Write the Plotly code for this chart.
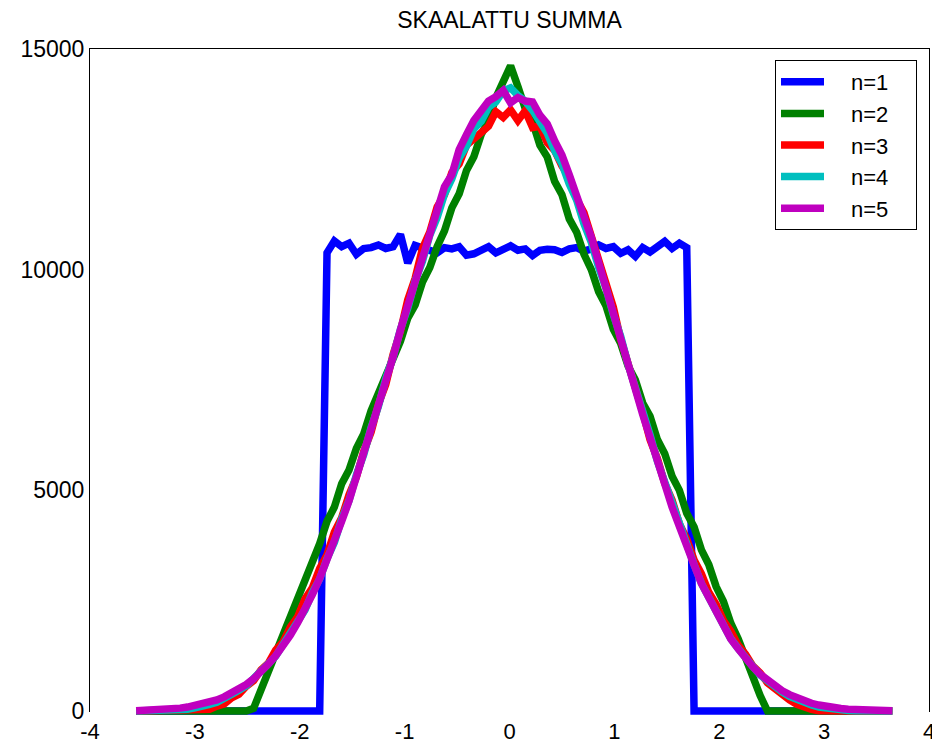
import plotly.graph_objects as go

# Bin centres shared by all histograms
x_centers = [
    -3.56, -3.49, -3.42, -3.35, -3.28, -3.21, -3.14, -3.07, -3.00, -2.93,
    -2.86, -2.79, -2.72, -2.65, -2.58, -2.51, -2.44, -2.37, -2.30, -2.23,
    -2.16, -2.09, -2.02, -1.95, -1.88, -1.81, -1.74, -1.67, -1.60, -1.53,
    -1.46, -1.39, -1.32, -1.25, -1.18, -1.11, -1.04, -0.97, -0.90, -0.83,
    -0.76, -0.69, -0.62, -0.55, -0.48, -0.41, -0.34, -0.27, -0.20, -0.13,
    -0.06, 0.01, 0.08, 0.15, 0.22, 0.29, 0.36, 0.43, 0.50, 0.57,
    0.64, 0.71, 0.78, 0.85, 0.92, 0.99, 1.06, 1.13, 1.20, 1.27,
    1.34, 1.41, 1.48, 1.55, 1.62, 1.69, 1.76, 1.83, 1.90, 1.97,
    2.04, 2.11, 2.18, 2.25, 2.32, 2.39, 2.46, 2.53, 2.60, 2.67,
    2.74, 2.81, 2.88, 2.95, 3.02, 3.09, 3.16, 3.23, 3.30, 3.37,
    3.44, 3.51, 3.58, 3.65,
]

n1 = [
    0, 0, 0, 0, 0, 0, 0, 0, 0, 0,
    0, 0, 0, 0, 0, 0, 0, 0, 0, 0,
    0, 0, 0, 0, 0, 0, 10380, 10650, 10520, 10600,
    10350, 10480, 10500, 10560, 10480, 10520, 10800, 10150, 10550, 10500,
    10420, 10380, 10500, 10470, 10520, 10330, 10360, 10450, 10520, 10380,
    10470, 10540, 10440, 10470, 10320, 10440, 10460, 10450, 10390, 10470,
    10500, 10420, 10470, 10560, 10480, 10520, 10370, 10450, 10300, 10500,
    10400, 10520, 10640, 10480, 10600, 10500, 0, 0, 0, 0,
    0, 0, 0, 0, 0, 0, 0, 0, 0, 0,
    0, 0, 0, 0, 0, 0, 0, 0, 0, 0,
    0, 0, 0, 0,
]

n2 = [
    0, 0, 0, 0, 0, 0, 0, 0, 0, 0,
    0, 0, 0, 0, 0, 0, 60, 470, 920, 1290,
    1760, 2120, 2620, 2950, 3450, 3790, 4300, 4620, 5150, 5460,
    5950, 6280, 6800, 7200, 7540, 8050, 8380, 8900, 9200, 9720,
    10050, 10520, 10880, 11400, 11720, 12250, 12560, 13060, 13380, 13900,
    14300, 14620, 14150, 13650, 13350, 12820, 12550, 12000, 11700, 11150,
    10850, 10350, 10000, 9500, 9180, 8650, 8330, 7820, 7500, 6980,
    6680, 6150, 5830, 5320, 5000, 4480, 4170, 3650, 3320, 2820,
    2480, 1990, 1640, 1170, 790, 350, 0, 0, 0, 0,
    0, 0, 0, 0, 0, 0, 0, 0, 0, 0,
    0, 0, 0, 0,
]

n3 = [
    0, 0, 0, 0, 0, 0, 0, 0, 0, 10,
    40, 110, 160, 300, 380, 560, 690, 930, 1080, 1380,
    1560, 1900, 2130, 2540, 2790, 3230, 3540, 4050, 4380, 4900,
    5300, 5880, 6320, 6950, 7400, 8080, 8600, 9320, 9800, 10480,
    10850, 11420, 11700, 12200, 12400, 12820, 12950, 13100, 13250, 13580,
    13450, 13620, 13380, 13600, 13220, 13250, 12880, 12700, 12350, 12100,
    11600, 11290, 10720, 10300, 9650, 9150, 8420, 7900, 7250, 6780,
    6150, 5720, 5160, 4780, 4240, 3900, 3420, 3110, 2690, 2420,
    2050, 1810, 1490, 1290, 1020, 860, 640, 510, 350, 250,
    150, 85, 35, 8, 0, 0, 0, 0, 0, 0,
    0, 0, 0, 0,
]

n4 = [
    0, 0, 0, 2, 6, 10, 25, 40, 70, 95,
    150, 200, 280, 350, 470, 570, 730, 860, 1070, 1240,
    1500, 1710, 2030, 2290, 2680, 2990, 3450, 3820, 4350, 4770,
    5350, 5810, 6420, 6900, 7530, 8020, 8650, 9130, 9740, 10190,
    10780, 11180, 11710, 12060, 12530, 12800, 13190, 13360, 13680, 13800,
    14050, 14120, 13950, 13820, 13610, 13380, 13090, 12700, 12400, 11940,
    11580, 11040, 10620, 10050, 9580, 8980, 8490, 7860, 7370, 6750,
    6260, 5660, 5190, 4630, 4200, 3700, 3320, 2890, 2570, 2200,
    1940, 1640, 1420, 1180, 1010, 815, 680, 540, 435, 330,
    255, 185, 135, 90, 60, 35, 20, 10, 4, 2,
    0, 0, 0, 0,
]

n5 = [
    5, 10, 15, 20, 30, 45, 65, 90, 120, 150,
    200, 250, 320, 400, 490, 600, 730, 880, 1060, 1250,
    1470, 1720, 2000, 2300, 2640, 3000, 3410, 3820, 4300, 4760,
    5290, 5780, 6360, 6880, 7490, 8020, 8640, 9180, 9790, 10300,
    10880, 11350, 11880, 12150, 12720, 13060, 13380, 13600, 13820, 13920,
    14060, 13780, 13900, 13820, 13800, 13500, 13300, 12920, 12600, 12150,
    11730, 11200, 10730, 10140, 9620, 9010, 8470, 7850, 7320, 6720,
    6200, 5630, 5150, 4620, 4180, 3700, 3310, 2890, 2560, 2200,
    1930, 1630, 1410, 1180, 1000, 830, 690, 560, 460, 370,
    290, 230, 175, 135, 100, 75, 55, 40, 28, 20,
    14, 9, 6, 4,
]

series_names = ["n=1", "n=2", "n=3", "n=4", "n=5"]
series_values = [n1, n2, n3, n4, n5]
series_colors = ["#0000FF", "#008000", "#FF0000", "#00BFBF", "#BF00BF"]

x_ticks = [-4, -3, -2, -1, 0, 1, 2, 3, 4]
y_ticks = [0, 5000, 10000, 15000]

FONT = "Arial, Liberation Sans, Helvetica, sans-serif"
W, H = 932, 745
M_L, M_R, M_T, M_B = 90, 3, 49, 28
plot_w = W - M_L - M_R
plot_h = H - M_T - M_B
pad = 6  # extra pixels below zero so thick lines are not clipped
y_lo = 0
y_hi = 15000

EM = "\u2003"
fig = go.Figure()
# empty trace so that the visible axis frame (x, y) exists
fig.add_trace(go.Scatter(x=[None], y=[None], mode="lines", showlegend=False,
                         hoverinfo="skip", xaxis="x", yaxis="y"))
for name, vals, col in zip(series_names, series_values, series_colors):
    fig.add_trace(go.Scatter(
        x=x_centers, y=vals, mode="lines", name=EM + name + EM,
        line=dict(color=col, width=7.5),
        xaxis="x", yaxis="y2",
    ))

fig.update_layout(
    width=W, height=H,
    margin=dict(l=M_L, r=M_R, t=M_T, b=M_B, pad=0, autoexpand=False),
    paper_bgcolor="white", plot_bgcolor="white",
    font=dict(family=FONT, size=23, color="black"),
    title=dict(text="SKAALATTU SUMMA", x=0.5, xref="paper", xanchor="center",
               y=1 - 20 / H, yref="container", yanchor="middle",
               font=dict(family=FONT, size=23, color="black")),
    xaxis=dict(range=[-4, 4], tickvals=x_ticks, ticktext=[str(v) for v in x_ticks],
               ticks="inside", ticklen=7, tickcolor="black", showline=True,
               linecolor="black", linewidth=1, mirror="ticks", showgrid=False,
               zeroline=False, anchor="y", tickfont=dict(size=22),
               ticklabeloverflow="allow", ticklabelstandoff=1, automargin=False),
    yaxis=dict(range=[y_lo, y_hi], tickvals=y_ticks, ticktext=[str(v) for v in y_ticks],
               domain=[pad / plot_h, 1], ticks="inside", ticklen=7, tickcolor="black",
               showline=True, linecolor="black", linewidth=1, mirror="ticks",
               showgrid=False, zeroline=False, anchor="x", tickfont=dict(size=23),
               automargin=False),
    yaxis2=dict(range=[y_lo - (y_hi - y_lo) * pad / (plot_h - pad), y_hi],
                domain=[0, 1], visible=False, anchor="x", showgrid=False,
                zeroline=False),
    legend=dict(x=(917 - M_L) / plot_w, xanchor="right",
                y=(H - M_B - 60) / plot_h, yanchor="top",
                bgcolor="white", bordercolor="black", borderwidth=1,
                itemwidth=43,
                font=dict(family=FONT, size=22, color="black")),
    showlegend=True,
)

fig.write_html(
    "out.html",
    config={"displayModeBar": False, "staticPlot": True},
    post_script=(
        "document.documentElement.style.margin='0';"
        "document.body.style.margin='0';"
        "document.documentElement.style.overflow='hidden';"
        "document.body.style.overflow='hidden';"
    ),
)
